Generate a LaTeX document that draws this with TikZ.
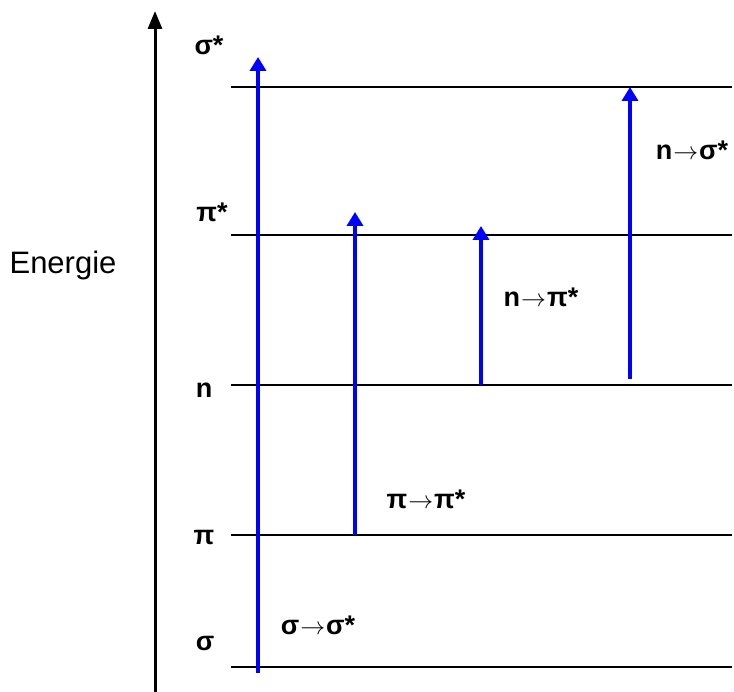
\documentclass[tikz,border=0pt]{standalone}
\usepackage{fontspec}
\setmainfont{Liberation Sans}
\usetikzlibrary{arrows.meta,positioning}

\newcommand{\tto}{\kern1pt$\rightarrow$\kern1pt}

\begin{document}
\begin{tikzpicture}[
    x=1pt, y=-1pt,
    level/.style={draw=black, line width=1.3pt},
    trans/.style={-{Triangle[width=16pt,length=14pt]}, draw=blue, line width=3.6pt},
    axis/.style={-{Triangle[width=14pt,length=18pt]}, draw=black, line width=3pt},
    lbl/.style={font=\bfseries\fontsize{27}{32}\selectfont, inner sep=0pt},
    axlbl/.style={font=\fontsize{31}{36}\selectfont, inner sep=0pt}
]
\useasboundingbox (0,0) rectangle (734,692);

% energy axis
\coordinate (ax0) at (155,692);
\coordinate (ax1) at (155,11);
\draw[axis] (ax0) -- (ax1);
\node[axlbl] (energie) at (63,265) {Energie};

% orbital levels
\coordinate (sigS-l) at (231,87);  \coordinate (sigS-r) at (732,87);
\coordinate (piS-l) at (231,235);  \coordinate (piS-r) at (732,235);
\coordinate (n-l) at (231,385);    \coordinate (n-r) at (732,385);
\coordinate (pi-l) at (231,535);   \coordinate (pi-r) at (732,535);
\coordinate (sig-l) at (231,667);  \coordinate (sig-r) at (732,667);
\foreach \lv in {sigS,piS,n,pi,sig}
    \draw[level] (\lv-l) -- (\lv-r);

\node[lbl] (lsigS) at (209,45) {σ*};
\node[lbl] (lpiS) at (212,212) {π*};
\node[lbl] (ln) at (204,390) {n};
\node[lbl] (lpi) at (204,537) {π};
\node[lbl] (lsig) at (205,643) {σ};

% transitions
\coordinate (t1a) at (258,673); \coordinate (t1b) at (258,57);
\coordinate (t2a) at (355,535); \coordinate (t2b) at (355,212);
\coordinate (t3a) at (481,385); \coordinate (t3b) at (481,226);
\coordinate (t4a) at (630,379); \coordinate (t4b) at (630,87);
\draw[trans] (t1a) -- (t1b);
\draw[trans] (t2a) -- (t2b);
\draw[trans] (t3a) -- (t3b);
\draw[trans] (t4a) -- (t4b);

\node[lbl] (tsig) at (318,625) {σ\tto σ*};
\node[lbl] (tpi) at (426,499) {π\tto π*};
\node[lbl] (tnpi) at (541,297) {n\tto π*};
\node[lbl] (tnsig) at (692,150) {n\tto σ*};
\end{tikzpicture}
\end{document}
